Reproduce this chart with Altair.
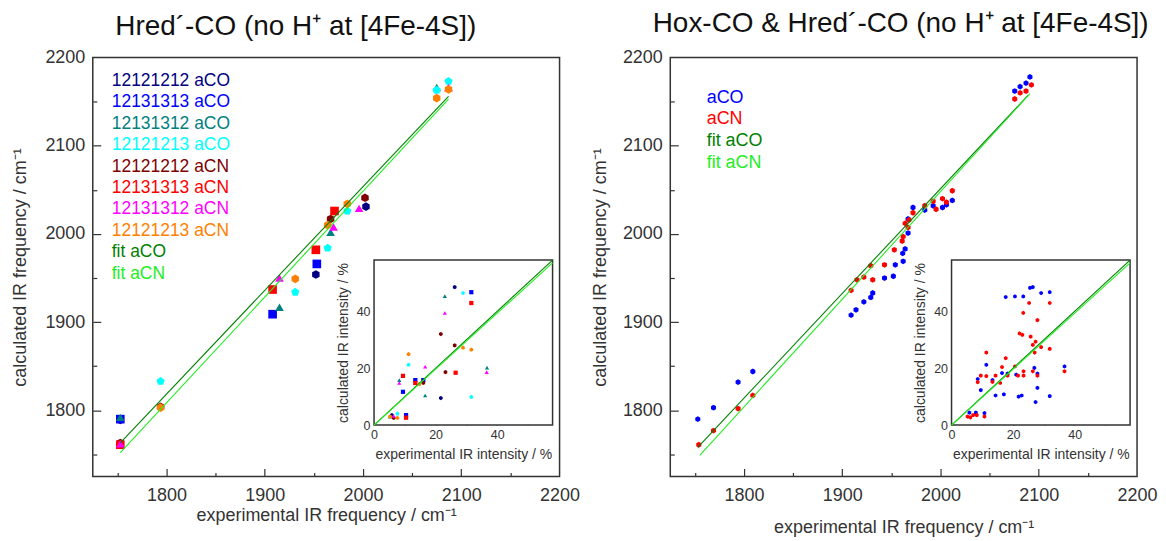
import altair as alt
import pandas as pd

FONT = "Liberation Sans"
INK = "#333333"
HEX = "M0,-1L0.866,-0.5L0.866,0.5L0,1L-0.866,0.5L-0.866,-0.5Z"
PENT = "M0,-1L0.951,-0.309L0.588,0.809L-0.588,0.809L-0.951,-0.309Z"

W, H = 468, 420
FREQ_DOMAIN = [1725, 2200]
FREQ_LABELS = [1800, 1900, 2000, 2100, 2200]
FREQ_MAJOR = [1800, 1900, 2000, 2100]
FREQ_MINOR = [1750, 1850, 1950, 2050, 2150]
INT_DOMAIN = [0, 58]
INT_LABELS = [0, 20, 40]
INT_TICKS = [10, 20, 30, 40, 50]
INSET_X_RANGE = [282, 461]
INSET_Y_RANGE = [368.5, 203]

FIT_NAMES = ["fit aCO", "fit aCN"]
FIT_COLORS = ["#008000", "#22ee22"]

# ---------------- left panel: Hred'-CO ----------------
L_SERIES = ["12121212 aCO", "12131313 aCO", "12131312 aCO", "12121213 aCO",
            "12121212 aCN", "12131313 aCN", "12131312 aCN", "12121213 aCN"]
L_COLORS = ["#000080", "#0000ff", "#008080", "#00ffff",
            "#800000", "#ff0000", "#ff00ff", "#ff8000"]
L_SHAPES = [HEX, "square", "triangle-up", PENT, HEX, "square", "triangle-up", HEX]

L_EXP = [
    [1753, 1952, 2003],
    [1753, 1908, 1953],
    [1753, 1915, 1967, 2075],
    [1794, 1931, 1964, 1984, 2075, 2087],
    [1753, 1794, 1967, 2002],
    [1753, 1908, 1952, 1971],
    [1753, 1915, 1970, 1996, 2087],
    [1794, 1931, 1964, 1984, 2075, 2087],
]
L_CALC = [
    [1789, 1954, 2031],
    [1790, 1909, 1966],
    [1792, 1917, 2002, 2166],
    [1833, 1934, 1984, 2026, 2163, 2173],
    [1763, 1804, 2017, 2041],
    [1761, 1937, 1982, 2026],
    [1762, 1950, 2008, 2029, 2166],
    [1803, 1949, 2010, 2034, 2154, 2164],
]
L_INT_EXP = [
    [26.2, 21.7, 5.8],
    [31.6, 13.4, 16.0, 9.4, 10.4],
    [23.0, 36.7, 8.2, 16.6, 5.2],
    [28.9, 11.2, 31.6, 7.6],
    [21.7, 26.2, 23.2, 16.0, 6.4],
    [31.6, 26.5, 9.4, 13.4, 10.4],
    [23.0, 16.6, 36.6, 8.2, 6.4],
    [28.9, 31.6, 11.2, 14.7, 5.2, 7.6],
]
L_INT_CALC = [
    [48.5, 9.5, 3.5],
    [46.7, 15.8, 15.8, 11.7, 3.5],
    [45.3, 20.2, 15.8, 10.4, 3.0],
    [46.4, 21.2, 9.9, 4.0],
    [32.0, 28.0, 18.6, 14.8, 2.5],
    [42.9, 18.4, 17.3, 14.8, 2.6],
    [39.4, 20.5, 18.6, 14.8, 3.2],
    [27.2, 26.5, 24.9, 14.4, 3.0, 2.5],
]
L_FIT_EXP = [[1753, 2087], [1753, 2087]]
L_FIT_CALC = [[1763, 2156], [1752, 2153]]

# ---------------- right panel: Hox-CO & Hred'-CO ----------------
R_SERIES = ["aCO", "aCN"]
R_COLORS = ["#0000ff", "#ff0000"]
R_SHAPES = [HEX, HEX]
R_EXP = [
    [1753, 1769, 1794, 1809, 1909, 1914, 1922, 1929, 1931, 1943, 1952, 1954, 1961.5,
     1962, 1964, 1967, 1967, 1972, 1984, 1992.5, 2002, 2006, 2012, 2075.5, 2081, 2087, 2091],
    [1754, 1769, 1794, 1809, 1909, 1915, 1922, 1931, 1929, 1943, 1953, 1961, 1962,
     1964, 1967, 1968, 1972, 1984, 1992.5, 1995.5, 2002, 2006, 2012, 2075.5, 2081, 2087, 2092.5],
]
R_CALC = [
    [1790, 1803, 1832, 1844, 1908, 1914, 1923, 1928, 1933, 1950, 1952, 1965, 1978,
     1969, 1983, 2001, 2017, 2030, 2027, 2032, 2030, 2033, 2038, 2162, 2167, 2171, 2178],
    [1761, 1777, 1802, 1817, 1936, 1948, 1951, 1948, 1964, 1965, 1982, 1992, 1997,
     2012, 2007.5, 2016, 2024, 2032, 2037, 2028, 2040, 2036, 2049, 2153, 2160, 2162, 2169],
]
R_INT_EXP = [
    [17.6, 20.6, 23.3, 25.5, 26.4, 29.1, 31.9, 11.3, 8.5, 16.4, 18.2, 9.5, 14.3, 17.0,
     21.8, 22.8, 26.9, 27.9, 27.9, 27.3, 31.9, 36.7, 13.3, 21.0, 5.8, 7.9, 10.7],
    [25.2, 31.9, 23.3, 27.9, 22.1, 23.0, 25.7, 26.4, 27.3, 29.1, 31.9, 27.0, 11.3, 17.6,
     16.4, 20.6, 9.5, 11.3, 14.3, 18.2, 21.6, 23.4, 23.4, 26.4, 27.9, 36.7, 8.5, 13.3,
     15.8, 5.2, 6.1, 7.0, 8.2, 10.7],
]
R_INT_CALC = [
    [45.0, 45.2, 45.2, 48.2, 48.5, 46.4, 46.7, 21.2, 16.2, 18.3, 18.1, 12.3, 10.4, 10.8,
     10.0, 10.4, 20.1, 18.1, 13.1, 8.1, 10.2, 20.6, 15.8, 17.7, 4.4, 4.4, 4.2],
    [42.9, 42.9, 39.4, 36.9, 32.2, 31.7, 31.1, 28.2, 29.3, 27.4, 26.8, 25.5, 25.5, 23.5,
     20.4, 20.6, 17.4, 17.2, 17.4, 17.4, 17.4, 18.9, 17.4, 18.9, 17.4, 18.9, 15.1, 15.2,
     14.8, 3.0, 2.7, 3.5, 3.5, 3.0],
]
R_FIT_EXP = [[1753, 2089], [1755, 2091]]
R_FIT_CALC = [[1758, 2157], [1749, 2159]]

# inset fits (both panels)
INT_FIT_EXP = [[0, 58], [0, 58]]
INT_FIT_CALC = [[0, 58], [0, 57]]


def frame(names, xs, ys):
    rows = []
    for s, xl, yl in zip(names, xs, ys):
        for x, y in zip(xl, yl):
            rows.append({"series": s, "x": x, "y": y})
    return pd.DataFrame(rows)


def tick_axis(orient, offset, values, size):
    return alt.Axis(orient=orient, offset=offset, values=values, tickSize=size,
                    tickColor=INK, tickWidth=1.2, labels=False, domain=False,
                    grid=False, title=None)


def panel(title, title_dx, title_offset, series, colors, shapes, msize, isize,
          exp, calc, iexp, icalc, fexp, fcalc, leg_x, leg_y0, leg_step, leg_size,
          ytp, xtp):
    main_df = frame(series, exp, calc)
    inset_df = frame(series, iexp, icalc)
    fit_df = frame(FIT_NAMES, fexp, fcalc)
    ifit_df = frame(FIT_NAMES, INT_FIT_EXP, INT_FIT_CALC)
    labels = series + FIT_NAMES
    leg_df = pd.DataFrame({"label": labels})
    box_df = pd.DataFrame({"x0": [INT_DOMAIN[0]], "x1": [INT_DOMAIN[1]],
                           "y0": [INT_DOMAIN[0]], "y1": [INT_DOMAIN[1]]})

    cscale = alt.Scale(domain=labels, range=colors + FIT_COLORS)
    sscale = alt.Scale(domain=series, range=shapes)
    fx = alt.Scale(domain=FREQ_DOMAIN, nice=False, zero=False)
    fy = alt.Scale(domain=FREQ_DOMAIN, nice=False, zero=False)
    ix = alt.Scale(domain=INT_DOMAIN, range=INSET_X_RANGE, nice=False, zero=False)
    iy = alt.Scale(domain=INT_DOMAIN, range=INSET_Y_RANGE, nice=False, zero=False)

    main_x_axis = alt.Axis(orient="bottom", values=FREQ_LABELS, format="d", ticks=False,
                           domain=False, grid=False, labelFont=FONT, labelFontSize=18,
                           labelColor=INK, labelPadding=10, labelFlush=False,
                           title="experimental IR frequency / cm⁻¹", titleFont=FONT,
                           titleFontSize=18, titleFontWeight="normal", titleColor=INK,
                           titlePadding=xtp)
    main_y_axis = alt.Axis(orient="left", values=FREQ_LABELS, format="d", ticks=False,
                           domain=False, grid=False, labelFont=FONT, labelFontSize=18,
                           labelColor=INK, labelPadding=8, labelFlush=False,
                           title="calculated IR frequency / cm⁻¹", titleFont=FONT,
                           titleFontSize=18, titleFontWeight="normal", titleColor=INK,
                           titlePadding=ytp)

    color = alt.Color("series:N", scale=cscale, legend=None)

    main_pts = alt.Chart(main_df).mark_point(filled=True, size=msize, opacity=1).encode(
        x=alt.X("x:Q", scale=fx, axis=main_x_axis),
        y=alt.Y("y:Q", scale=fy, axis=main_y_axis),
        color=color,
        shape=alt.Shape("series:N", scale=sscale, legend=None),
    )
    main_fit = alt.Chart(fit_df).mark_line(strokeWidth=1.1).encode(
        x=alt.X("x:Q", scale=fx, axis=tick_axis("bottom", -8, FREQ_MAJOR, 8)),
        y=alt.Y("y:Q", scale=fy, axis=tick_axis("left", -8, FREQ_MAJOR, 8)),
        color=color,
        detail="series:N",
    )
    minor = alt.Chart(fit_df).mark_line(opacity=0).encode(
        x=alt.X("x:Q", scale=fx, axis=tick_axis("bottom", -4, FREQ_MINOR, 4)),
        y=alt.Y("y:Q", scale=fy, axis=tick_axis("left", -4, FREQ_MINOR, 4)),
        detail="series:N",
    )
    legend = alt.Chart(leg_df).mark_text(align="left", baseline="middle", font=FONT,
                                         fontSize=leg_size).encode(
        x=alt.value(leg_x),
        y=alt.Y("label:N", scale=alt.Scale(type="point", domain=labels, padding=0,
                                           range=[leg_y0, leg_y0 + leg_step * (len(labels) - 1)]),
                axis=None),
        text="label:N",
        color=alt.Color("label:N", scale=cscale, legend=None),
    )
    box = alt.Chart(box_df).mark_rect(fill="white", stroke=INK, strokeWidth=1.5).encode(
        x=alt.X("x0:Q", scale=ix, axis=None), x2="x1:Q",
        y=alt.Y("y0:Q", scale=iy, axis=None), y2="y1:Q",
    )
    inset_pts = alt.Chart(inset_df).mark_point(filled=True, size=isize, opacity=1).encode(
        x=alt.X("x:Q", scale=ix,
                axis=alt.Axis(orient="bottom", offset=-(H - INSET_Y_RANGE[0]),
                              values=INT_LABELS, ticks=False, domain=False, grid=False,
                              labelFont=FONT, labelFontSize=12.5, labelColor=INK,
                              labelPadding=3, labelFlush=False,
                              title="experimental IR intensity / %", titleFont=FONT,
                              titleFontSize=14, titleFontWeight="normal", titleColor=INK,
                              titlePadding=7)),
        y=alt.Y("y:Q", scale=iy,
                axis=alt.Axis(orient="left", offset=-INSET_X_RANGE[0],
                              values=INT_LABELS, ticks=False, domain=False, grid=False,
                              labelFont=FONT, labelFontSize=12.5, labelColor=INK,
                              labelPadding=4, labelFlush=False,
                              title="calculated IR intensity / %", titleFont=FONT,
                              titleFontSize=14, titleFontWeight="normal", titleColor=INK,
                              titlePadding=6)),
        color=color,
        shape=alt.Shape("series:N", scale=sscale, legend=None),
    )
    inset_fit = alt.Chart(ifit_df).mark_line(strokeWidth=1.1).encode(
        x=alt.X("x:Q", scale=ix,
                axis=tick_axis("bottom", -(H - INSET_Y_RANGE[0]) - 3.5, INT_TICKS, 3.5)),
        y=alt.Y("y:Q", scale=iy,
                axis=tick_axis("left", -INSET_X_RANGE[0] - 3.5, INT_TICKS, 3.5)),
        color=color,
        detail="series:N",
    )
    return alt.layer(main_pts, main_fit, minor, legend, box, inset_pts, inset_fit).resolve_scale(
        x="independent", y="independent"
    ).properties(
        width=W, height=H,
        title=alt.TitleParams(title, font=FONT, fontSize=28, fontWeight="normal",
                              color="#111111", anchor="middle", dx=title_dx,
                              offset=title_offset),
    )


left = panel("Hred´-CO (no H⁺ at [4Fe-4S])", -30.5, 7.5, L_SERIES, L_COLORS, L_SHAPES, 75, 18,
             L_EXP, L_CALC, L_INT_EXP, L_INT_CALC, L_FIT_EXP, L_FIT_CALC,
             19, 23.3, 21.5, 17.5, 15, 2)
right = panel("Hox-CO & Hred´-CO (no H⁺ at [4Fe-4S])", -3, 10.5, R_SERIES, R_COLORS, R_SHAPES, 34, 18,
              R_EXP, R_CALC, R_INT_EXP, R_INT_CALC, R_FIT_EXP, R_FIT_CALC,
              36.5, 40.3, 21.7, 18, 13, 14)

chart = alt.hconcat(left, right, spacing=10).resolve_scale(
    color="independent", shape="independent"
).properties(
    padding={"left": 3, "top": 0, "right": 0, "bottom": 0}
).configure_view(stroke=INK, strokeWidth=1.5)

chart.save("out.html", embed_options={"renderer": "svg", "actions": False})
